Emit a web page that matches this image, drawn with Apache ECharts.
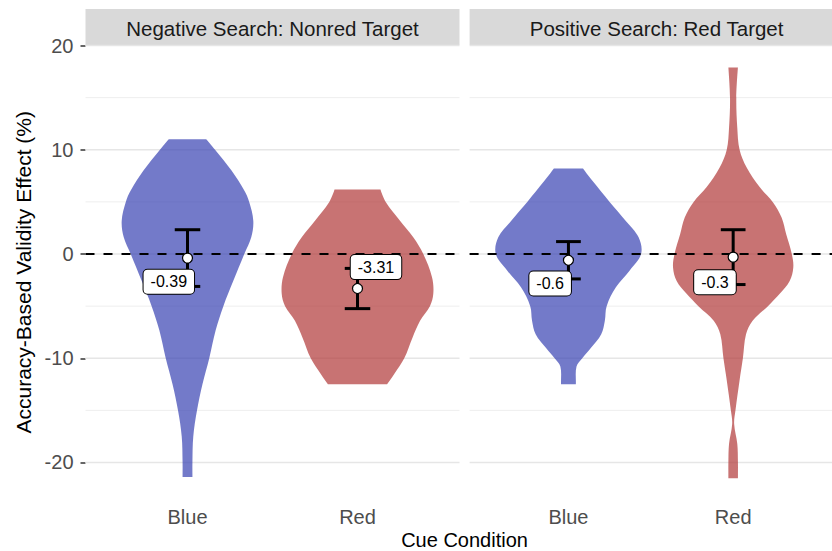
<!DOCTYPE html>
<html>
<head>
<meta charset="utf-8">
<script src="https://cdn.jsdelivr.net/npm/echarts@6.0.0/dist/echarts.min.js"></script>
<style>
  html, body { margin: 0; padding: 0; background: #ffffff; }
  #chart { width: 832px; height: 551px; }
</style>
</head>
<body>
<div id="chart"></div>
<script>
// ---- data -------------------------------------------------------------
const panelTitles = ['Negative Search: Nonred Target', 'Positive Search: Red Target'];
const cueConditions = ['Blue', 'Red'];

// mean validity effect (%) per cue condition, and half-length of the error bar
const meansNegative = [-0.39, -3.31];
const errorNegative = [2.72, 1.93];
const meansPositive = [-0.6, -0.3];
const errorPositive = [1.79, 2.63];

// violin outlines: [effect (%), density half-width in category units]
const violinNegativeBlue = [
  [11.0, 0.110], [10.0, 0.162], [8.0, 0.259], [6.1, 0.334], [5.0, 0.363],
  [3.2, 0.387], [1.6, 0.375], [0.0, 0.334], [-2.6, 0.269], [-5.0, 0.211],
  [-7.3, 0.166], [-10.0, 0.128], [-12.5, 0.088], [-15.0, 0.056],
  [-17.5, 0.034], [-20.0, 0.029], [-21.4, 0.029]
];
const violinNegativeRed = [
  [6.2, 0.135], [5.0, 0.166], [3.2, 0.250], [1.6, 0.328], [0.0, 0.387],
  [-2.2, 0.438], [-3.8, 0.446], [-5.0, 0.426], [-6.4, 0.368], [-8.0, 0.324],
  [-10.0, 0.275], [-11.5, 0.216], [-12.5, 0.174]
];
const violinPositiveBlue = [
  [8.2, 0.088], [7.0, 0.147], [5.0, 0.250], [3.2, 0.347], [1.6, 0.426],
  [0.0, 0.441], [-1.6, 0.371], [-3.2, 0.288], [-5.0, 0.232], [-6.4, 0.221],
  [-7.7, 0.199], [-9.0, 0.137], [-10.0, 0.084], [-10.8, 0.049], [-12.5, 0.045]
];
const violinPositiveRed = [
  [17.9, 0.029], [15.0, 0.019], [12.1, 0.025], [10.0, 0.039], [8.3, 0.082],
  [6.4, 0.162], [5.0, 0.240], [3.5, 0.294], [1.9, 0.322], [0.0, 0.356],
  [-1.3, 0.365], [-2.6, 0.343], [-3.8, 0.284], [-5.0, 0.211], [-6.4, 0.118],
  [-7.7, 0.078], [-10.0, 0.059], [-12.1, 0.039], [-15.0, 0.014],
  [-16.3, 0.006], [-18.2, 0.025], [-20.0, 0.029], [-21.5, 0.029]
];

const yTickValues = [-20, -10, 0, 10, 20];
const yMinorValues = [-15, -5, 5, 15];

// ---- layout & style ----------------------------------------------------
const FONT = '"Liberation Sans", Arial, Helvetica, sans-serif';
const PANEL_TOP = 45;
const PANEL_HEIGHT = 454.5;
const PANEL_WIDTH = 374;
const PANEL_LEFTS = [85.5, 469.6];
const STRIP_HEIGHT = 36;
const Y_MIN = -23.55, Y_MAX = 20.05;
const X_MIN = 0.4, X_MAX = 2.6;
const CAP_HALF = 0.075;
const cueFill = ['rgba(56,65,178,0.7)', 'rgba(176,55,55,0.7)'];
// pixel offset of each value label from its mean point (repelled labels)
const labelOffsets = [
  [[-18.7, 23.6], [18.5, -21.4]],
  [[-18.3, 23.2], [-18.2, 25.1]]
];

const violins = [
  [violinNegativeBlue, violinNegativeRed],
  [violinPositiveBlue, violinPositiveRed]
];
const means = [meansNegative, meansPositive];
const errors = [errorNegative, errorPositive];

const chart = echarts.init(document.getElementById('chart'), null, { renderer: 'svg' });

const grids = [], xAxes = [], yAxes = [], series = [], graphics = [];

PANEL_LEFTS.forEach((left, p) => {
  grids.push({ left: left, top: PANEL_TOP, width: PANEL_WIDTH, height: PANEL_HEIGHT, containLabel: false });

  xAxes.push({
    type: 'value', gridIndex: p, min: X_MIN, max: X_MAX,
    axisLine: { show: false },
    splitLine: { show: false },
    axisTick: { show: true, length: 5, customValues: [1, 2], lineStyle: { color: '#333333', width: 1.5 } },
    axisLabel: {
      show: true, customValues: [1, 2], margin: 7,
      fontSize: 20, color: '#4d4d4d', fontFamily: FONT,
      formatter: v => cueConditions[Math.round(v) - 1]
    }
  });

  yAxes.push({
    type: 'value', gridIndex: p, min: Y_MIN, max: Y_MAX,
    axisLine: { show: false },
    splitLine: { show: false },
    axisTick: { show: p === 0, length: 5, customValues: yTickValues, lineStyle: { color: '#333333', width: 1.5 } },
    axisLabel: {
      show: p === 0, customValues: yTickValues, margin: 12,
      fontSize: 20, color: '#4d4d4d', fontFamily: FONT
    }
  });

  // background grid lines
  series.push({
    type: 'custom', xAxisIndex: p, yAxisIndex: p, z: 1, silent: true,
    data: [[1, 0]],
    renderItem: (params, api) => {
      const cs = params.coordSys;
      const lines = [];
      yMinorValues.forEach(v => {
        const y = api.coord([1, v])[1];
        lines.push({ type: 'line', shape: { x1: cs.x, y1: y, x2: cs.x + cs.width, y2: y },
          style: { stroke: '#eeeeee', lineWidth: 1 } });
      });
      yTickValues.forEach(v => {
        const y = api.coord([1, v])[1];
        lines.push({ type: 'line', shape: { x1: cs.x, y1: y, x2: cs.x + cs.width, y2: y },
          style: { stroke: '#e6e6e6', lineWidth: 1.4 } });
      });
      return { type: 'group', children: lines };
    }
  });

  // violins: smooth sides, flat trimmed ends
  series.push({
    type: 'custom', xAxisIndex: p, yAxisIndex: p, z: 2, silent: true,
    data: [[1, 0], [2, 0]],
    renderItem: (params, api) => {
      const ci = params.dataIndex;
      const prof = violins[p][ci];
      const xc = api.value(0);
      const leftSide = prof.map(([v, w]) => api.coord([xc - w, v]));
      const rightSide = prof.slice().reverse().map(([v, w]) => api.coord([xc + w, v]));
      // repeat the bottom corners so the smoothing keeps the bottom edge straight
      const pts = leftSide.concat([leftSide[leftSide.length - 1]], [rightSide[0]], rightSide);
      return {
        type: 'polyline',
        shape: { points: pts, smooth: 0.35 },
        style: { fill: cueFill[ci], stroke: null, lineWidth: 0 }
      };
    }
  });

  // zero reference line
  series.push({
    type: 'custom', xAxisIndex: p, yAxisIndex: p, z: 3, silent: true,
    data: [[1, 0]],
    renderItem: (params, api) => {
      const cs = params.coordSys;
      const y = api.coord([1, 0])[1];
      return { type: 'line', shape: { x1: cs.x, y1: y, x2: cs.x + cs.width, y2: y },
        style: { stroke: '#000000', lineWidth: 2, lineDash: [9, 9] } };
    }
  });

  // error bars
  series.push({
    type: 'custom', xAxisIndex: p, yAxisIndex: p, z: 4, silent: true,
    data: means[p].map((m, i) => [i + 1, m, m - errors[p][i], m + errors[p][i]]),
    renderItem: (params, api) => {
      const x = api.value(0), lo = api.value(2), hi = api.value(3);
      const a = api.coord([x, hi]), b = api.coord([x, lo]);
      const tl = api.coord([x - CAP_HALF, hi]), tr = api.coord([x + CAP_HALF, hi]);
      const bl = api.coord([x - CAP_HALF, lo]), br = api.coord([x + CAP_HALF, lo]);
      const st = { stroke: '#000000', lineWidth: 3 };
      return { type: 'group', children: [
        { type: 'line', shape: { x1: a[0], y1: a[1], x2: b[0], y2: b[1] }, style: st },
        { type: 'line', shape: { x1: tl[0], y1: tl[1], x2: tr[0], y2: tr[1] }, style: st },
        { type: 'line', shape: { x1: bl[0], y1: bl[1], x2: br[0], y2: br[1] }, style: st }
      ] };
    }
  });

  // mean points
  series.push({
    type: 'scatter', xAxisIndex: p, yAxisIndex: p, z: 5, silent: true,
    symbol: 'circle', symbolSize: 10,
    itemStyle: { color: '#ffffff', borderColor: '#000000', borderWidth: 1.2, opacity: 1 },
    data: means[p].map((m, i) => [i + 1, m])
  });

  // value labels
  series.push({
    type: 'custom', xAxisIndex: p, yAxisIndex: p, z: 6, silent: true,
    data: means[p].map((m, i) => [i + 1, m]),
    renderItem: (params, api) => {
      const i = params.dataIndex;
      const pt = api.coord([api.value(0), api.value(1)]);
      const off = labelOffsets[p][i];
      return {
        type: 'text',
        x: pt[0] + off[0], y: pt[1] + off[1],
        style: {
          text: String(means[p][i]),
          fontSize: 16, fontFamily: FONT, fill: '#000000',
          align: 'center', verticalAlign: 'middle',
          backgroundColor: '#ffffff', borderColor: '#000000', borderWidth: 1,
          borderRadius: 4, padding: [4, 7]
        }
      };
    }
  });

  // facet strip
  graphics.push({
    type: 'rect', silent: true,
    shape: { x: left, y: PANEL_TOP - STRIP_HEIGHT, width: PANEL_WIDTH, height: STRIP_HEIGHT },
    style: { fill: '#d9d9d9' }
  });
  graphics.push({
    type: 'text', silent: true,
    x: left + PANEL_WIDTH / 2, y: PANEL_TOP - STRIP_HEIGHT / 2 + 1,
    style: { text: panelTitles[p], fontSize: 20.5, fontFamily: FONT, fill: '#1a1a1a',
      align: 'center', verticalAlign: 'middle' }
  });
});

// axis titles
graphics.push({
  type: 'text', silent: true,
  x: (PANEL_LEFTS[0] + PANEL_LEFTS[1] + PANEL_WIDTH) / 2, y: 540,
  style: { text: 'Cue Condition', fontSize: 20, lineHeight: 14, fontFamily: FONT, fill: '#000000',
    align: 'center', verticalAlign: 'middle' }
});
graphics.push({
  type: 'text', silent: true,
  x: 23, y: PANEL_TOP + PANEL_HEIGHT / 2, rotation: Math.PI / 2,
  style: { text: 'Accuracy-Based Validity Effect (%)', fontSize: 21, fontFamily: FONT, fill: '#000000',
    align: 'center', verticalAlign: 'middle' }
});

chart.setOption({
  animation: false,
  backgroundColor: '#ffffff',
  grid: grids,
  xAxis: xAxes,
  yAxis: yAxes,
  series: series,
  graphic: { elements: graphics }
});
</script>
</body>
</html>
